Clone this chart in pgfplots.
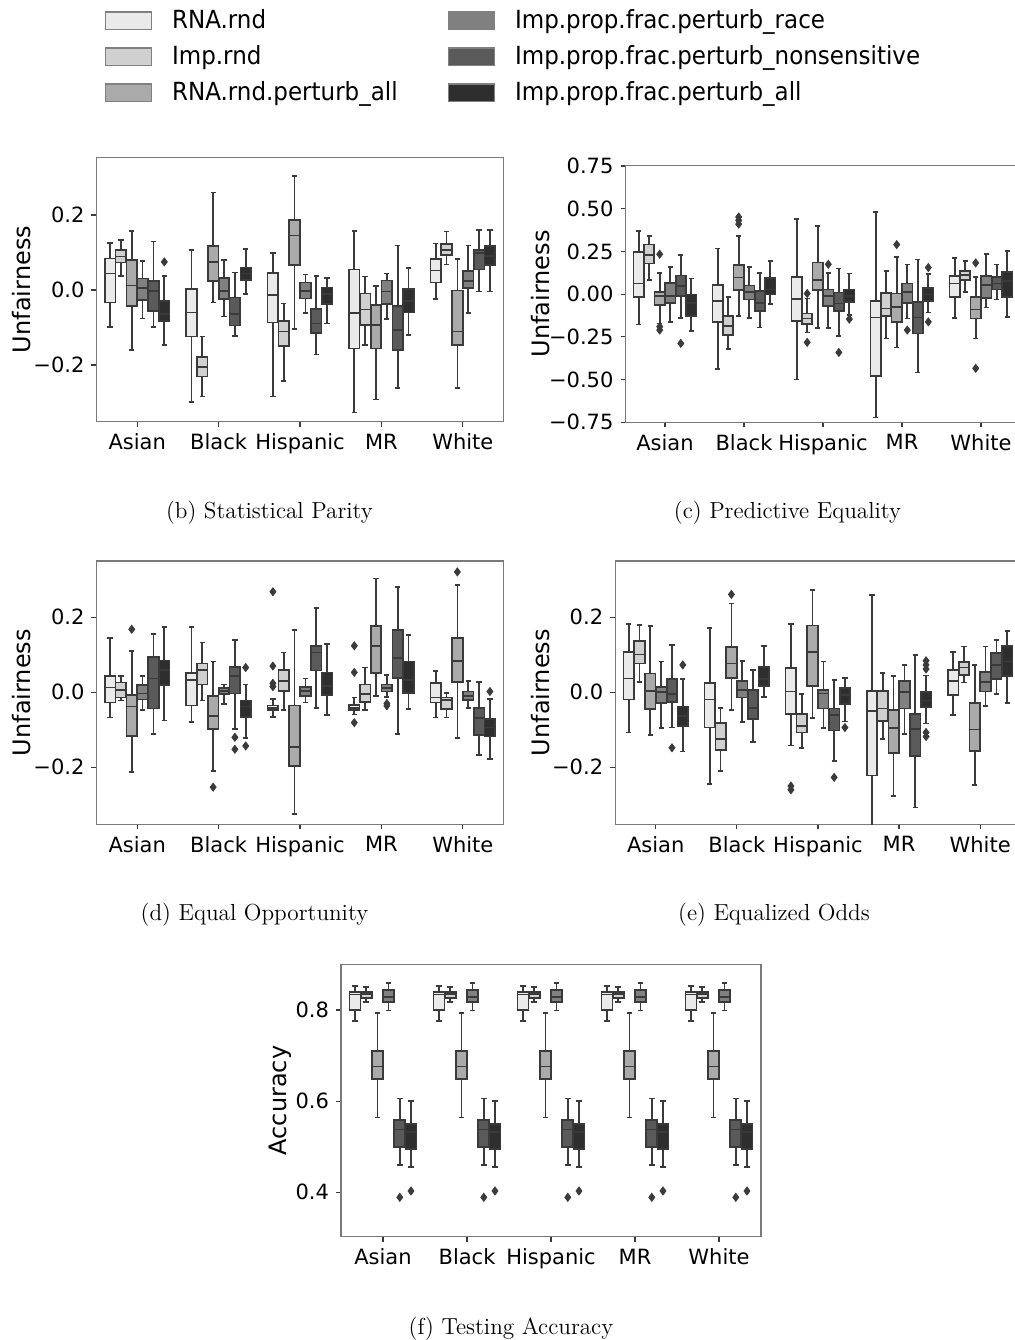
\documentclass[border=0pt]{standalone}
\usepackage{fontspec}
\usepackage{pgfplots}
\pgfplotsset{compat=1.18}
\usepgfplotslibrary{statistics}
\newfontfamily\dv{DejaVu Sans}
\newfontfamily\dvleg{DejaVu Sans}[FakeStretch=0.92]
\definecolor{s1}{HTML}{EAEAEA}
\definecolor{s2}{HTML}{D0D0D0}
\definecolor{s3}{HTML}{AAAAAA}
\definecolor{s4}{HTML}{808080}
\definecolor{s5}{HTML}{5A5A5A}
\definecolor{s6}{HTML}{2E2E2E}
\definecolor{edge}{HTML}{3A3A3A}
\definecolor{frame}{HTML}{7A7A7A}
% box: group, series, lower whisker, Q1, median, Q3, upper whisker
\newcommand\B[7]{\addplot[boxplot prepared={draw direction=y, draw position={#1+(#2-3.5)*0.13333},
  lower whisker=#3, lower quartile=#4, median=#5, upper quartile=#6, upper whisker=#7,
  box extend=0.13, whisker extend=0.065,
  every box/.style={draw=edge,fill=s#2,line width=0.85pt},
  every whisker/.style={draw=edge,line width=0.85pt},
  every median/.style={draw=edge,line width=0.85pt}}] coordinates {};}
\newcommand\Ol[1]{\addplot[only marks, mark=diamond*, mark size=2pt, mark options={draw=edge,fill=edge}] coordinates {#1};}
\pgfplotsset{rb/.style={scale only axis, xmin=-0.5, xmax=4.5, xtick={0,1,2,3,4},
  xticklabels={Asian,Black,Hispanic,MR,White}, tick align=outside, major tick length=2.5pt,
  tick style={draw=edge, line width=0.6pt}, axis line style={draw=frame, line width=0.6pt},
  ticklabel style={font=\dv\fontsize{10.5}{12}\selectfont}, xtick pos=bottom, ytick pos=left,
  label style={font=\dv\fontsize{12}{14}\selectfont}, anchor=south west}}
\newcommand\F[1]{%
\B{#1}{1}{0.776}{0.800}{0.834}{0.840}{0.853}
\B{#1}{2}{0.818}{0.827}{0.835}{0.840}{0.850}
\B{#1}{3}{0.564}{0.649}{0.676}{0.710}{0.793}
\B{#1}{4}{0.799}{0.817}{0.829}{0.844}{0.859}
\B{#1}{5}{0.460}{0.500}{0.538}{0.559}{0.606}
\B{#1}{6}{0.456}{0.495}{0.533}{0.550}{0.601}}
\begin{document}
\begin{tikzpicture}
% legend
\begin{axis}[at={(0pt,0pt)}, anchor=north west, scale only axis, width=507.5pt, height=60pt,
  xmin=0, xmax=1015, ymin=-120, ymax=0, hide axis, legend columns=2, legend cell align=left,
  legend style={at={(axis cs:104.3,-10.8)}, anchor=north west, draw=none, fill=none, inner sep=0pt,
    font=\dvleg\fontsize{12.5}{14}\selectfont, nodes={inner sep=0pt, text height=8pt, text depth=2.5pt},
    row sep=6.85pt, /tikz/every even column/.append style={column sep=25pt}},
  legend image code/.code={\draw[#1, draw=s4, line width=0.7pt] (0.35pt,-3.2pt) rectangle (23.35pt,5.6pt); \path[draw=none,fill=none] (0pt,0pt) -- (33.7pt,0pt);}]
\addlegendimage{fill=s1}\addlegendentry{RNA.rnd}
\addlegendimage{fill=s4}\addlegendentry{Imp.prop.frac.perturb\_race}
\addlegendimage{fill=s2}\addlegendentry{Imp.rnd}
\addlegendimage{fill=s5}\addlegendentry{Imp.prop.frac.perturb\_nonsensitive}
\addlegendimage{fill=s3}\addlegendentry{RNA.rnd.perturb\_all}
\addlegendimage{fill=s6}\addlegendentry{Imp.prop.frac.perturb\_all}
\end{axis}
% (b)
\begin{axis}[rb, at={(48.25pt,-210.85pt)}, width=203.5pt, height=132.2pt, ymin=-0.3512, ymax=0.3539,
  ytick={-0.2,0,0.2}, yticklabels={−0.2,0.0,0.2}, ylabel={Unfairness},
  ylabel style={at={(axis description cs:-0.183,0.5)}, anchor=center}]
\B{0}{1}{-0.098}{-0.033}{0.044}{0.084}{0.126}
\B{0}{2}{0.037}{0.073}{0.089}{0.107}{0.133}
\B{0}{3}{-0.160}{-0.042}{0.012}{0.080}{0.158}
\B{0}{4}{-0.076}{-0.027}{0.006}{0.031}{0.077}
\B{0}{5}{-0.098}{-0.056}{-0.003}{0.024}{0.129}
\B{0}{6}{-0.146}{-0.083}{-0.064}{-0.030}{0.037}
\Ol{(0.333,0.075)}
\B{1}{1}{-0.298}{-0.124}{-0.060}{0.003}{0.107}
\B{1}{2}{-0.284}{-0.231}{-0.206}{-0.178}{-0.124}
\B{1}{3}{-0.033}{0.024}{0.074}{0.118}{0.260}
\B{1}{4}{-0.071}{-0.024}{-0.003}{0.032}{0.080}
\B{1}{5}{-0.123}{-0.095}{-0.064}{-0.020}{0.047}
\B{1}{6}{-0.011}{0.027}{0.044}{0.060}{0.109}
\B{2}{1}{-0.284}{-0.087}{-0.013}{0.046}{0.098}
\B{2}{2}{-0.242}{-0.149}{-0.111}{-0.082}{-0.036}
\B{2}{3}{-0.104}{0.067}{0.145}{0.187}{0.304}
\B{2}{4}{-0.062}{-0.023}{-0.002}{0.020}{0.041}
\B{2}{5}{-0.172}{-0.114}{-0.089}{-0.050}{0.038}
\B{2}{6}{-0.089}{-0.037}{-0.011}{0.007}{0.032}
\B{3}{1}{-0.327}{-0.156}{-0.062}{0.055}{0.158}
\B{3}{2}{-0.147}{-0.093}{-0.052}{-0.009}{0.036}
\B{3}{3}{-0.292}{-0.156}{-0.093}{-0.040}{0.011}
\B{3}{4}{-0.078}{-0.037}{-0.004}{0.025}{0.044}
\B{3}{5}{-0.262}{-0.160}{-0.107}{-0.043}{0.119}
\B{3}{6}{-0.120}{-0.060}{-0.029}{0.003}{0.058}
\B{4}{1}{-0.024}{0.020}{0.052}{0.083}{0.124}
\B{4}{2}{0.068}{0.094}{0.107}{0.123}{0.156}
\B{4}{3}{-0.262}{-0.146}{-0.111}{-0.001}{0.083}
\B{4}{4}{-0.062}{0.006}{0.024}{0.051}{0.119}
\B{4}{5}{-0.004}{0.055}{0.098}{0.107}{0.160}
\B{4}{6}{-0.004}{0.067}{0.091}{0.118}{0.160}
\end{axis}
% (c)
\begin{axis}[rb, at={(312.75pt,-211.15pt)}, width=197.5pt, height=128.3pt, ymin=-0.75, ymax=0.752,
  ytick={-0.75,-0.5,-0.25,0,0.25,0.5,0.75}, yticklabels={−0.75,−0.50,−0.25,0.00,0.25,0.50,0.75},
  ylabel={Unfairness}, ylabel style={at={(axis description cs:-0.216,0.5)}, anchor=center}]
\B{0}{1}{-0.177}{-0.016}{0.062}{0.247}{0.368}
\B{0}{2}{0.082}{0.179}{0.230}{0.290}{0.339}
\B{0}{3}{-0.171}{-0.064}{-0.010}{0.014}{0.125}
\Ol{(-0.067,0.234) (-0.067,-0.19) (-0.067,-0.21)}
\B{0}{4}{-0.162}{-0.051}{-0.010}{0.066}{0.160}
\B{0}{5}{-0.138}{-0.012}{0.047}{0.109}{0.228}
\Ol{(0.2,-0.288)}
\B{0}{6}{-0.216}{-0.127}{-0.051}{-0.002}{0.092}
\B{1}{1}{-0.438}{-0.162}{-0.041}{0.053}{0.267}
\B{1}{2}{-0.321}{-0.240}{-0.185}{-0.127}{-0.016}
\B{1}{3}{-0.127}{0.023}{0.097}{0.169}{0.339}
\Ol{(0.933,0.452) (0.933,0.432) (0.933,0.41)}
\B{1}{4}{-0.138}{-0.031}{0.014}{0.051}{0.160}
\B{1}{5}{-0.195}{-0.100}{-0.051}{0.019}{0.125}
\B{1}{6}{-0.058}{-0.002}{0.027}{0.095}{0.195}
\B{2}{1}{-0.499}{-0.156}{-0.029}{0.101}{0.442}
\B{2}{2}{-0.224}{-0.175}{-0.142}{-0.113}{-0.025}
\Ol{(1.8,0.004) (1.8,-0.282)}
\B{2}{3}{-0.200}{0.023}{0.082}{0.185}{0.399}
\B{2}{4}{-0.200}{-0.068}{-0.012}{0.027}{0.125}
\Ol{(2.067,0.175)}
\B{2}{5}{-0.244}{-0.097}{-0.055}{0.010}{0.150}
\Ol{(2.2,-0.341)}
\B{2}{6}{-0.123}{-0.045}{-0.010}{0.027}{0.121}
\Ol{(2.333,-0.146)}
\B{3}{1}{-0.721}{-0.479}{-0.136}{-0.039}{0.481}
\B{3}{2}{-0.259}{-0.127}{-0.084}{0.008}{0.136}
\B{3}{3}{-0.312}{-0.162}{-0.074}{0.004}{0.218}
\Ol{(2.933,0.29)}
\B{3}{4}{-0.142}{-0.051}{0.014}{0.062}{0.173}
\Ol{(3.067,-0.21)}
\B{3}{5}{-0.458}{-0.230}{-0.136}{-0.045}{0.203}
\B{3}{6}{-0.107}{-0.039}{-0.002}{0.037}{0.117}
\Ol{(3.333,0.156) (3.333,-0.162)}
\B{4}{1}{-0.138}{-0.016}{0.062}{0.107}{0.212}
\B{4}{2}{0.014}{0.082}{0.111}{0.136}{0.193}
\B{4}{3}{-0.259}{-0.142}{-0.090}{-0.016}{0.101}
\Ol{(3.933,0.183) (3.933,-0.434)}
\B{4}{4}{-0.078}{-0.021}{0.053}{0.105}{0.234}
\B{4}{5}{-0.031}{0.027}{0.062}{0.101}{0.173}
\B{4}{6}{-0.132}{-0.016}{0.076}{0.131}{0.251}
\end{axis}
% (d)
\begin{axis}[rb, at={(48.25pt,-412.15pt)}, width=203.5pt, height=131.65pt, ymin=-0.352, ymax=0.350,
  ytick={-0.2,0,0.2}, yticklabels={−0.2,0.0,0.2}, ylabel={Unfairness},
  ylabel style={at={(axis description cs:-0.183,0.5)}, anchor=center}]
\B{0}{1}{-0.067}{-0.027}{0.013}{0.043}{0.144}
\B{0}{2}{-0.022}{-0.014}{0.006}{0.026}{0.043}
\B{0}{3}{-0.213}{-0.116}{-0.038}{-0.007}{0.111}
\Ol{(-0.067,0.168)}
\B{0}{4}{-0.047}{-0.019}{-0.003}{0.020}{0.043}
\B{0}{5}{-0.112}{-0.043}{0.037}{0.095}{0.156}
\B{0}{6}{-0.075}{0.020}{0.059}{0.085}{0.174}
\B{1}{1}{-0.080}{-0.035}{0.033}{0.051}{0.174}
\B{1}{2}{-0.022}{0.021}{0.059}{0.077}{0.133}
\B{1}{3}{-0.209}{-0.098}{-0.063}{-0.010}{0.082}
\Ol{(0.933,-0.253)}
\B{1}{4}{-0.032}{-0.005}{0.004}{0.011}{0.021}
\B{1}{5}{-0.098}{-0.003}{0.044}{0.068}{0.140}
\Ol{(1.2,-0.12) (1.2,-0.152)}
\B{1}{6}{-0.121}{-0.065}{-0.038}{-0.022}{0.021}
\Ol{(1.333,0.066) (1.333,-0.143)}
\B{2}{1}{-0.065}{-0.047}{-0.041}{-0.035}{-0.018}
\Ol{(1.667,0.268) (1.667,0.07) (1.667,0.024) (1.667,0.015)}
\B{2}{2}{-0.047}{0.004}{0.030}{0.059}{0.106}
\B{2}{3}{-0.325}{-0.196}{-0.145}{-0.035}{0.166}
\B{2}{4}{-0.027}{-0.010}{0.004}{0.015}{0.037}
\B{2}{5}{-0.041}{0.058}{0.106}{0.124}{0.224}
\B{2}{6}{-0.060}{-0.007}{0.017}{0.053}{0.128}
\B{3}{1}{-0.059}{-0.047}{-0.041}{-0.034}{-0.014}
\Ol{(2.667,0.124) (2.667,0.053) (2.667,-0.081)}
\B{3}{2}{-0.047}{-0.025}{-0.005}{0.021}{0.066}
\B{3}{3}{-0.009}{0.051}{0.124}{0.176}{0.303}
\B{3}{4}{-0.012}{0.002}{0.012}{0.021}{0.046}
\Ol{(3.067,-0.03) (3.067,-0.036)}
\B{3}{5}{-0.112}{0.039}{0.092}{0.166}{0.281}
\B{3}{6}{-0.044}{-0.001}{0.033}{0.082}{0.153}
\B{4}{1}{-0.067}{-0.027}{-0.014}{0.024}{0.057}
\B{4}{2}{-0.067}{-0.044}{-0.020}{-0.014}{-0.001}
\B{4}{3}{-0.121}{0.027}{0.084}{0.144}{0.286}
\Ol{(3.933,0.321)}
\B{4}{4}{-0.041}{-0.020}{-0.009}{0.002}{0.030}
\B{4}{5}{-0.167}{-0.114}{-0.069}{-0.041}{0.027}
\B{4}{6}{-0.178}{-0.118}{-0.094}{-0.072}{-0.018}
\Ol{(4.333,0.002)}
\end{axis}
% (e)
\begin{axis}[rb, at={(307.6pt,-412.15pt)}, width=202.75pt, height=131.65pt, ymin=-0.352, ymax=0.350,
  ytick={-0.2,0,0.2}, yticklabels={−0.2,0.0,0.2}, ylabel={Unfairness},
  ylabel style={at={(axis description cs:-0.185,0.5)}, anchor=center}]
\B{0}{1}{-0.107}{-0.019}{0.037}{0.107}{0.182}
\B{0}{2}{0.028}{0.077}{0.101}{0.137}{0.180}
\B{0}{3}{-0.114}{-0.044}{0.004}{0.050}{0.177}
\B{0}{4}{-0.096}{-0.029}{0.000}{0.015}{0.082}
\B{0}{5}{-0.094}{-0.025}{-0.004}{0.035}{0.126}
\Ol{(0.2,-0.148)}
\B{0}{6}{-0.158}{-0.090}{-0.063}{-0.038}{0.036}
\Ol{(0.333,0.073)}
\B{1}{1}{-0.245}{-0.094}{-0.019}{0.024}{0.172}
\B{1}{2}{-0.210}{-0.154}{-0.124}{-0.081}{-0.041}
\B{1}{3}{-0.047}{0.039}{0.077}{0.120}{0.237}
\Ol{(0.933,0.261)}
\B{1}{4}{-0.080}{-0.014}{0.006}{0.031}{0.084}
\B{1}{5}{-0.132}{-0.071}{-0.041}{0.006}{0.060}
\B{1}{6}{-0.013}{0.017}{0.036}{0.068}{0.124}
\B{2}{1}{-0.142}{-0.058}{0.002}{0.064}{0.182}
\Ol{(1.667,-0.25) (1.667,-0.26)}
\B{2}{2}{-0.149}{-0.107}{-0.089}{-0.058}{-0.005}
\B{2}{3}{-0.069}{0.017}{0.108}{0.178}{0.273}
\B{2}{4}{-0.096}{-0.043}{-0.003}{0.006}{0.082}
\B{2}{5}{-0.183}{-0.102}{-0.060}{-0.043}{0.033}
\Ol{(2.2,-0.227)}
\B{2}{6}{-0.078}{-0.031}{-0.007}{0.011}{0.039}
\Ol{(2.333,-0.094)}
\B{3}{1}{-0.400}{-0.222}{-0.050}{0.004}{0.260}
\B{3}{2}{-0.124}{-0.076}{-0.043}{0.004}{0.051}
\B{3}{3}{-0.276}{-0.161}{-0.096}{-0.047}{0.044}
\B{3}{4}{-0.112}{-0.043}{0.000}{0.030}{0.073}
\B{3}{5}{-0.307}{-0.170}{-0.098}{-0.058}{0.100}
\B{3}{6}{-0.083}{-0.040}{-0.022}{0.000}{0.045}
\Ol{(3.333,0.084) (3.333,0.073) (3.333,0.062) (3.333,-0.107) (3.333,-0.118)}
\B{4}{1}{-0.060}{-0.007}{0.030}{0.060}{0.108}
\B{4}{2}{0.026}{0.046}{0.066}{0.080}{0.122}
\B{4}{3}{-0.247}{-0.156}{-0.099}{-0.028}{0.073}
\B{4}{4}{-0.036}{0.002}{0.028}{0.055}{0.122}
\B{4}{5}{-0.005}{0.036}{0.073}{0.104}{0.140}
\B{4}{6}{-0.028}{0.044}{0.082}{0.124}{0.164}
\end{axis}
% (f)
\begin{axis}[rb, at={(170.5pt,-618.35pt)}, width=210pt, height=136.2pt, ymin=0.3026, ymax=0.9003,
  ytick={0.4,0.6,0.8}, yticklabels={0.4,0.6,0.8}, ylabel={Accuracy},
  ylabel style={at={(axis description cs:-0.145,0.5)}, anchor=center}]
\F{0}\F{1}\F{2}\F{3}\F{4}
\Ol{(0.2,0.389) (1.2,0.389) (2.2,0.389) (3.2,0.389) (4.2,0.389)}
\Ol{(0.333,0.403) (1.333,0.403) (2.333,0.403) (3.333,0.403) (4.333,0.403)}
\end{axis}
\begin{scope}[every node/.style={font=\fontsize{11.6}{14}\selectfont}]
\node at (134.75pt,-256.5pt) {(b) Statistical Parity};
\node at (393.75pt,-256.5pt) {(c) Predictive Equality};
\node at (127.25pt,-457.5pt) {(d) Equal Opportunity};
\node at (387pt,-457.5pt) {(e) Equalized Odds};
\node at (255.5pt,-664.5pt) {(f) Testing Accuracy};
\end{scope}
\pgfresetboundingbox
\path[use as bounding box] (0pt,0pt) rectangle (507.5pt,-670pt);
\end{tikzpicture}
\end{document}
